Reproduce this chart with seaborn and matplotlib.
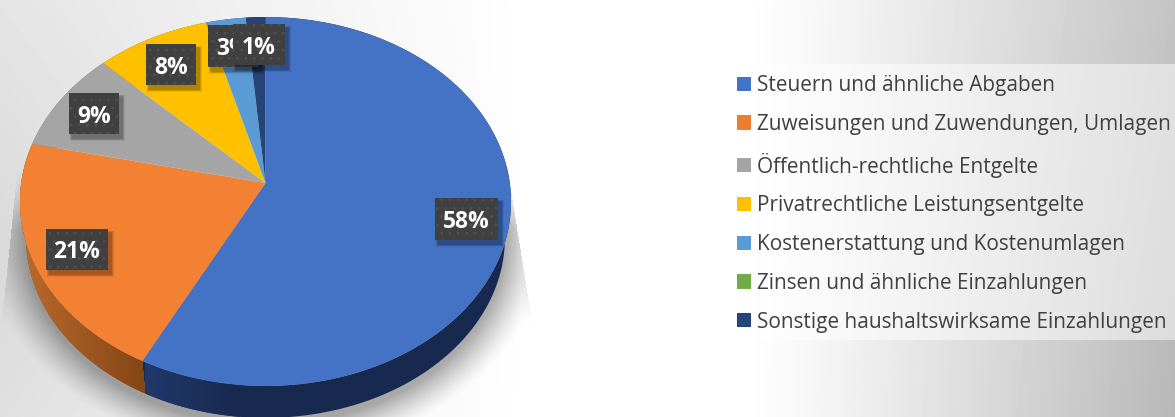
import numpy as np
import matplotlib
matplotlib.use('Agg')
import matplotlib.pyplot as plt
import seaborn as sns
from matplotlib.patches import Polygon, Rectangle
from matplotlib.transforms import Transform

categories = ['Steuern und ähnliche Abgaben', 'Zuweisungen und Zuwendungen, Umlagen',
              'Öffentlich-rechtliche Entgelte', 'Privatrechtliche Leistungsentgelte',
              'Kostenerstattung und Kostenumlagen', 'Zinsen und ähnliche Einzahlungen',
              'Sonstige haushaltswirksame Einzahlungen']
values = [57.6, 20.9, 8.9, 8.3, 2.9, 0.0, 1.4]
colors = ['#4472C4', '#ED7D31', '#A5A5A5', '#FFC000', '#5B9BD5', '#70AD47', '#264478']
top_colors = ['#4472C4', '#F38133', '#A5A5A5', '#FFC000', '#5B9BD5', '#70AD47', '#264478']
wall_colors = ['#18294F', '#8C4A1C', '#6A6A6A', '#A07800', '#36648C', '#466E2C', '#18294F']
label_texts = ['58%', '21%', '9%', '8%', '3%', '1%']
label_boxes = [(435, 198, 63, 42), (46, 229, 62, 41), (69, 93, 50, 41),
               (146, 44, 50, 41), (208, 25, 50, 42), (233, 24, 52, 41)]

W, H = 1175, 417
CX, CY = 265.5, 183
A, B, K = 244.3, 182.6, 0.1003


class Perspective(Transform):
    input_dims = 2
    output_dims = 2

    def __init__(self, scale=1.0, shift=0.0):
        super().__init__()
        self.scale = scale
        self.shift = shift

    def transform_non_affine(self, pts):
        pts = np.asarray(pts, dtype=float)
        den = 1 + K * pts[:, 1]
        x = CX + self.scale * A * pts[:, 0] / den
        y = CY + self.shift - self.scale * B * pts[:, 1] / den
        return np.column_stack([x, y])


sns.set_theme(style='white')
plt.rcParams['font.family'] = ['Open Sans', 'DejaVu Sans']

fig = plt.figure(figsize=(W / 100, H / 100), dpi=100)
ax = fig.add_axes([0, 0, 1, 1])

# background
xx, yy = np.meshgrid(np.arange(W) + .5, np.arange(H) + .5)
dark_left = np.clip((530 - xx) / 530, 0, 1) * (1 - .3 * np.abs(yy - 260) / 260)
dark_right = np.clip((xx - 745) / 430, 0, 1) ** 1.1 * (.95 + .2 * yy / H)
bg = 255 - 38 * dark_left - 62 * dark_right
ax.imshow(bg, cmap='gray', vmin=0, vmax=255, extent=(0, W, H, 0), zorder=0, aspect='auto')

# soft shadow below the pie
base_r = np.hypot((xx - CX) / 241, (yy - 238) / 186)
halo = .32 * np.clip((1.17 - base_r) / .17, 0, 1) ** 1.4 * np.clip((yy - 170) / 60, 0, 1)
inside = (xx > 20 - 15 * (yy - 145) / 148) & (xx < 511 + 16 * (yy - 190) / 100) & (yy > 145)
fan = .11 * inside * np.clip((yy - 170) / 60, 0, 1) * np.clip((325 - yy) / 45, 0, 1)
shadow = np.zeros((H, W, 4))
shadow[..., 3] = np.maximum(halo * inside, fan)
ax.imshow(shadow, extent=(0, W, H, 0), zorder=1, aspect='auto')

# side wall of the pie
rim = Perspective()
base = Perspective(.975, 37)
start = 90.0
for val, col in zip(values, wall_colors):
    th = np.radians(np.linspace(start, start - val * 3.6, 120))
    pts = np.column_stack([np.cos(th), np.sin(th)])
    outline = np.vstack([rim.transform_non_affine(pts), base.transform_non_affine(pts)[::-1]])
    ax.add_patch(Polygon(outline, closed=True, fc=col, ec='none', zorder=2))
    if col == wall_colors[1]:
        wall_grad = np.linspace(0, 1, 200).reshape(1, -1)
        im = ax.imshow(wall_grad, cmap=sns.blend_palette(['#BC6A2C', '#844616'], as_cmap=True),
                       extent=(20, 145, H, 0), zorder=2.1, aspect='auto')
        im.set_clip_path(Polygon(outline, closed=True, transform=ax.transData))
    if col == wall_colors[0]:
        wall_grad = np.linspace(0, 1, 200).reshape(1, -1)
        im = ax.imshow(wall_grad, cmap=sns.blend_palette(['#20396A', '#18294F'], as_cmap=True),
                       extent=(145, 240, H, 0), zorder=2.1, aspect='auto')
        im.set_clip_path(Polygon(outline, closed=True, transform=ax.transData))
    start -= val * 3.6

# top of the pie
wedges, _ = ax.pie(values, colors=top_colors, startangle=90, counterclock=False,
                   wedgeprops=dict(linewidth=0))
for w in wedges:
    w.set_transform(rim + ax.transData)
    w.set_zorder(3)

# data labels
for txt, (x, y, w, h) in zip(label_texts, label_boxes):
    for i in range(5):
        grow = 5 - i
        ax.add_patch(Rectangle((x + 3 - grow / 2, y + 4 - grow / 2), w + grow, h + grow,
                               fc='black', ec='none', alpha=.07, zorder=4))
    ax.add_patch(Rectangle((x, y), w, h, fc='#404040', ec='#4E4E4E', lw=0, hatch='..', zorder=4))
    ax.text(x + w / 2, y + h / 2, txt, color='white', fontsize=16.5, fontweight='bold',
            ha='center', va='center_baseline', zorder=4)

# legend, its panel is drawn separately and runs over the right edge
ax.add_patch(Rectangle((725, 64), 460, 276, fc='white', ec='none', alpha=.5, zorder=4.5))
handles = [Rectangle((0, 0), 1, 1, fc=c, ec='none') for c in colors]
leg = ax.legend(handles, categories, loc='upper left', bbox_to_anchor=(725, 63),
                bbox_transform=ax.transData, borderaxespad=0, frameon=False,
                fontsize=14.95, handlelength=.67, handleheight=.67, handletextpad=.29,
                labelspacing=.855, borderpad=.58, labelcolor='#404040')
leg.set_zorder(5)

ax.set_xlim(0, W)
ax.set_ylim(H, 0)
ax.set_aspect('auto')
ax.axis('off')
fig.savefig('out.png', dpi=100)
